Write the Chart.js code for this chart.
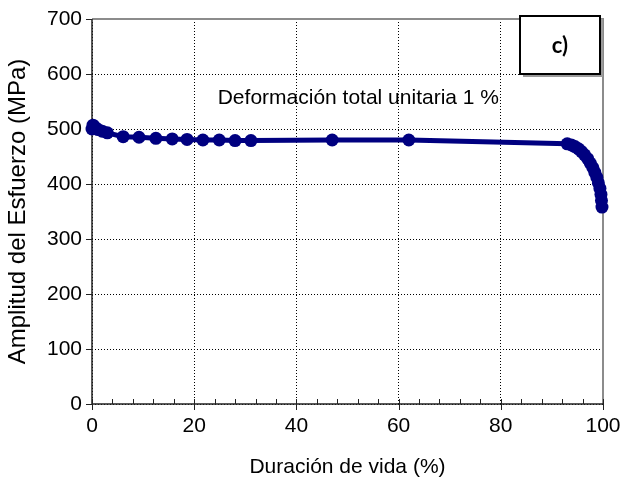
<!DOCTYPE html>
<html>
<head>
<meta charset="utf-8">
<script src="https://cdn.jsdelivr.net/npm/chart.js@4.4.1/dist/chart.umd.min.js"></script>
<style>
  html, body { margin: 0; padding: 0; background: #fff; }
  #wrap { width: 623px; height: 481px; position: relative; }
</style>
</head>
<body>
<div id="wrap"><canvas id="c" width="623" height="481"></canvas></div>
<script>
// ---- Data ----
const lifePercent = [0, 0.2, 0.4, 0.7, 1.2, 2.0, 3.0, 6.1, 9.2, 12.5, 15.7, 18.6, 21.7, 24.9, 28.0, 31.1, 47.0, 62.0,
  93.0, 93.8, 94.5, 95.2, 95.8, 96.4, 97.0, 97.5, 98.0, 98.4, 98.8, 99.1, 99.4, 99.6, 99.7, 99.8];
const stressAmplitude = [500, 507, 505, 502, 499, 496, 493, 486, 485, 483, 482, 481, 480, 480, 479, 479, 480, 480,
  473, 471, 468, 464, 459, 453, 446, 438, 430, 421, 412, 402, 392, 381, 370, 358];
const xTickValues = [0, 20, 40, 60, 80, 100];
const yTickValues = [0, 100, 200, 300, 400, 500, 600, 700];
const xAxisTitle = 'Duración de vida (%)';
const yAxisTitle = 'Amplitud del Esfuerzo (MPa)';
const annotationText = 'Deformación total unitaria 1 %';
const panelLabel = 'c)';

const points = lifePercent.map((x, i) => ({ x: x, y: stressAmplitude[i] }));
const NAVY = '#000080';
const FONT = 'Liberation Sans, Arial, sans-serif';

const framePlugin = {
  id: 'frame',
  beforeDatasetsDraw(chart) {
    const { ctx, chartArea: a, scales: { x, y } } = chart;
    ctx.save();
    ctx.strokeStyle = '#8c8c8c';
    ctx.lineWidth = 2;
    ctx.beginPath();
    ctx.moveTo(a.left, a.top);
    ctx.lineTo(a.right, a.top);
    ctx.lineTo(a.right, a.bottom);
    ctx.stroke();
    ctx.strokeStyle = '#222';
    ctx.lineWidth = 1.5;
    ctx.beginPath();
    ctx.moveTo(a.left, a.top);
    ctx.lineTo(a.left, a.bottom);
    ctx.lineTo(a.right, a.bottom);
    ctx.stroke();
    ctx.lineWidth = 1;
    ctx.beginPath();
    yTickValues.forEach(v => {
      const py = Math.round(y.getPixelForValue(v)) + 0.5;
      ctx.moveTo(a.left - 6, py);
      ctx.lineTo(a.left, py);
    });
    xTickValues.forEach(v => {
      const px = Math.round(x.getPixelForValue(v)) + 0.5;
      ctx.moveTo(px, a.bottom - 5);
      ctx.lineTo(px, a.bottom + 6);
    });
    for (let v = 4; v < 100; v += 4) {
      if (v % 20 === 0) continue;
      const px = Math.round(x.getPixelForValue(v)) + 0.5;
      ctx.moveTo(px, a.bottom - 5);
      ctx.lineTo(px, a.bottom);
    }
    ctx.stroke();
    ctx.restore();
  },
  afterDraw(chart) {
    const { ctx, scales: { x, y } } = chart;
    ctx.save();
    ctx.fillStyle = '#000';
    ctx.font = '21px ' + FONT;
    ctx.textAlign = 'left';
    ctx.textBaseline = 'middle';
    ctx.fillText(annotationText, x.getPixelForValue(24.6), y.getPixelForValue(556));
    const bx = 520, by = 16, bw = 80, bh = 58;
    ctx.fillStyle = '#9a9a9a';
    ctx.fillRect(bx + 3, by + 3, bw, bh);
    ctx.fillStyle = '#fff';
    ctx.fillRect(bx, by, bw, bh);
    ctx.strokeStyle = '#000';
    ctx.lineWidth = 2;
    ctx.strokeRect(bx, by, bw, bh);
    ctx.fillStyle = '#000';
    ctx.textAlign = 'center';
    ctx.font = 'bold 22px Lato, "Open Sans", sans-serif';
    ctx.fillText(panelLabel, bx + bw / 2, by + bh / 2 + 1);
    ctx.restore();
  }
};

new Chart(document.getElementById('c'), {
  type: 'line',
  data: {
    datasets: [{
      data: points,
      borderColor: NAVY,
      backgroundColor: NAVY,
      borderWidth: 5,
      pointRadius: 6.5,
      pointHoverRadius: 6.5,
      pointBackgroundColor: NAVY,
      pointBorderColor: NAVY,
      pointBorderWidth: 0,
      tension: 0,
      clip: false
    }]
  },
  options: {
    responsive: false,
    animation: false,
    events: [],
    layout: { padding: { top: 19, right: 20, left: 0, bottom: 0 } },
    plugins: { legend: { display: false }, tooltip: { enabled: false } },
    scales: {
      x: {
        type: 'linear',
        min: 0, max: 100,
        afterBuildTicks(s) { s.ticks = xTickValues.map(v => ({ value: v })); },
        afterFit(s) { s.height = 77; s.paddingLeft = 0; s.paddingRight = 0; },
        ticks: { color: '#000', font: { family: FONT, size: 21 }, padding: 10, maxRotation: 0 },
        grid: { color: '#000', lineWidth: 1, drawTicks: false },
        border: { display: false, dash: [1, 2] },
        title: { display: true, text: xAxisTitle, color: '#000', font: { family: FONT, size: 21 }, padding: { top: 0, bottom: 1 } }
      },
      y: {
        type: 'linear',
        min: 0, max: 700,
        afterBuildTicks(s) { s.ticks = yTickValues.map(v => ({ value: v })); },
        afterFit(s) { s.width = 92; s.paddingTop = 0; s.paddingBottom = 0; },
        ticks: { color: '#000', font: { family: FONT, size: 21 }, padding: 10 },
        grid: { color: '#000', lineWidth: 1, drawTicks: false },
        border: { display: false, dash: [1, 2] },
        title: { display: true, text: yAxisTitle, color: '#000', font: { family: FONT, size: 24 }, padding: { top: 4, bottom: 0 } }
      }
    }
  },
  plugins: [framePlugin]
});
</script>
</body>
</html>
